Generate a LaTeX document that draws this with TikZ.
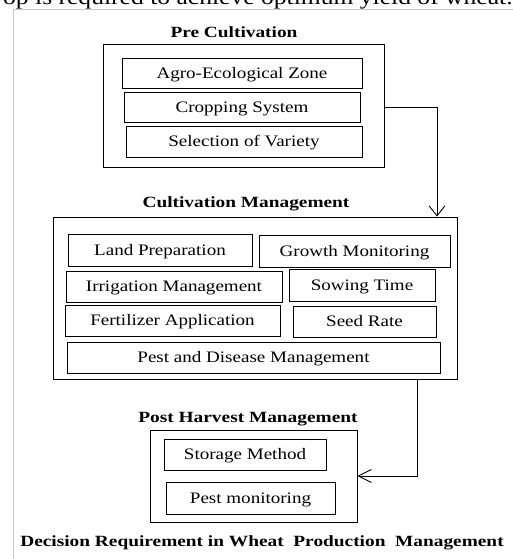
\documentclass[tikz,border=0pt]{standalone}
\usepackage{fontspec}
\setmainfont{Liberation Serif}
\newfontfamily\bxfont[FakeStretch=1.19]{Liberation Serif}
\newfontfamily\tlfont[FakeStretch=1.24]{Liberation Serif}
\usetikzlibrary{arrows.meta}
\begin{document}
\begin{tikzpicture}[x=1pt,y=-1pt,
  item/.style={draw, line width=0.9pt, font=\bxfont\fontsize{16}{19}\selectfont,
    inner sep=0pt, text height=11pt, text depth=0.5pt},
  group/.style={draw, line width=0.9pt, inner sep=0pt},
  title/.style={font=\tlfont\bfseries\fontsize{15.6}{18}\selectfont,
    inner sep=0pt, text height=10.4pt, text depth=0pt},
  conn/.style={line width=0.9pt},
  frame/.style={draw=black!22, line width=1pt}]
\useasboundingbox (0,0) rectangle (513,559);
\clip (0,0) rectangle (513,559);
\fill[white] (0,0) rectangle (513,559);
% page fragments
\node[anchor=base west, inner sep=0pt, font=\bxfont\fontsize{21.5}{24}\selectfont] (topline) at (3,5) {op is required to achieve optimum yield of wheat.};
\draw[frame] (513,10) -- (13,10) -- (13,559);
% Pre cultivation
\node[title] (pret) at (234,32) {Pre Cultivation};
\node[group, minimum width=281, minimum height=123] (pre) at (243.5,105.5) {};
\node[item, minimum width=240, minimum height=30] (agro) at (242,73) {Agro-Ecological Zone};
\node[item, minimum width=236, minimum height=30] (crop) at (242,107) {Cropping System};
\node[item, minimum width=236, minimum height=31] (sel) at (244,141.5) {Selection of Variety};
% Cultivation management
\node[title] (cultt) at (246,202) {Cultivation Management};
\node[group, minimum width=404, minimum height=162] (cult) at (255,298) {};
\node[item, minimum width=184, minimum height=32] (land) at (160,250) {Land Preparation};
\node[item, minimum width=191, minimum height=32] (growth) at (354.5,251) {Growth Monitoring};
\node[item, minimum width=216, minimum height=31] (irr) at (174,286.5) {Irrigation Management};
\node[item, minimum width=146, minimum height=32] (sow) at (362,285) {Sowing Time};
\node[item, minimum width=215, minimum height=31] (fert) at (172.5,320.5) {Fertilizer Application};
\node[item, minimum width=143, minimum height=31] (seed) at (364.5,321.5) {Seed Rate};
\node[item, minimum width=373, minimum height=31] (pest) at (253.5,357.5) {Pest and Disease Management};
% Post harvest
\node[title] (pht) at (248,417) {Post Harvest Management};
\node[group, minimum width=207, minimum height=92] (ph) at (253.5,476) {};
\node[item, minimum width=162, minimum height=31] (stor) at (245,454.5) {Storage Method};
\node[item, minimum width=169, minimum height=32] (pmon) at (250.5,498) {Pest monitoring};
% caption
\node[title] (cap) at (262,541) {Decision Requirement in Wheat~~Production~~Management};
% connectors
\coordinate (c1) at (437,107);
\draw[conn, -{Straight Barb[length=10pt,width=16pt]}] (crop.east -| pre.east) -- (c1) -- (c1 |- cult.north);
\coordinate (c2) at (417,476);
\draw[conn, -{Straight Barb[length=13pt,width=13pt]}] (cult.south -| c2) -- (c2) -- (c2 -| ph.east);
\end{tikzpicture}
\end{document}
